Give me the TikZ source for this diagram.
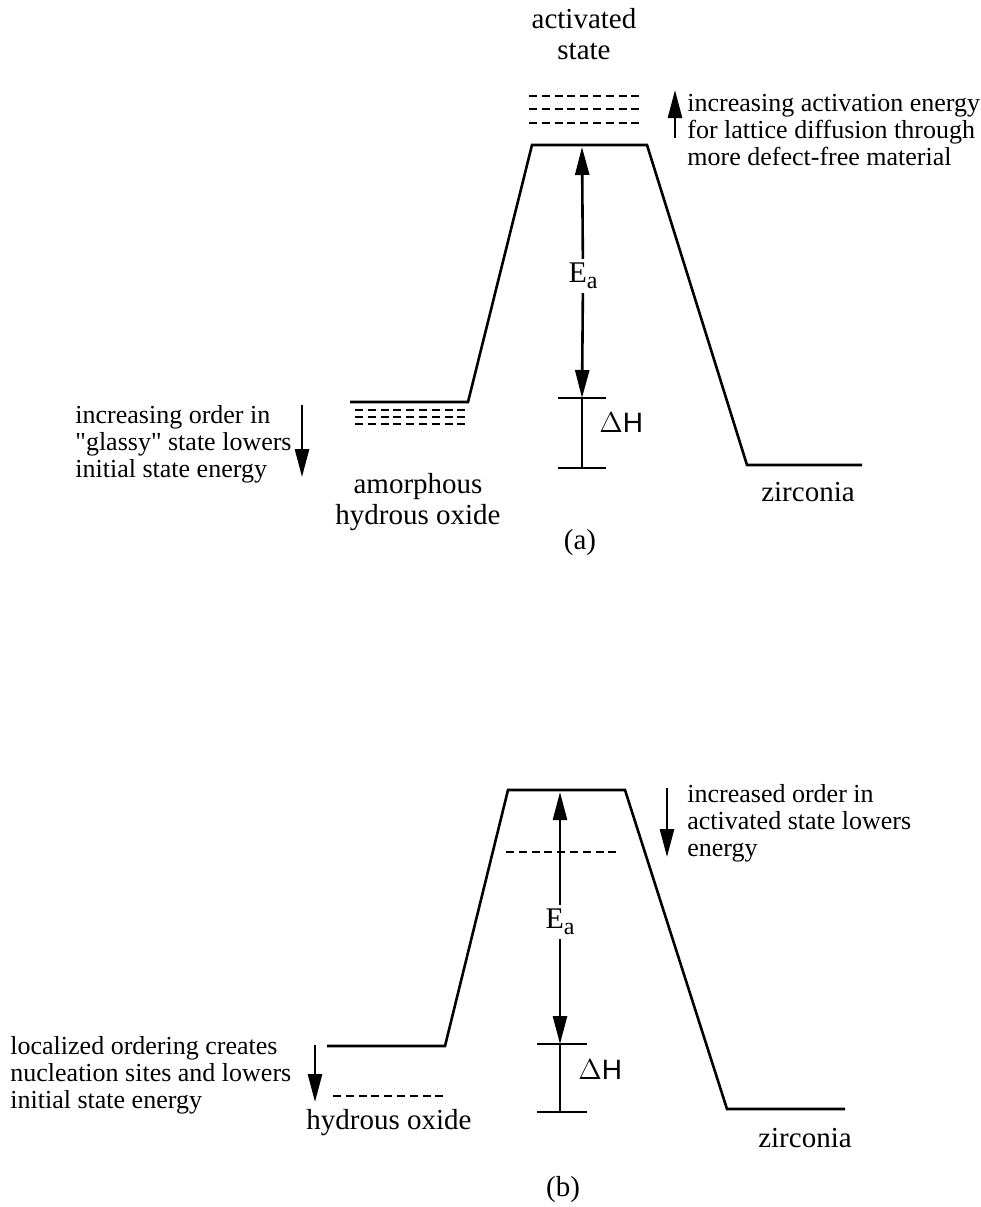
\documentclass[tikz,border=0pt]{standalone}
\usepackage{fontspec}
\setmainfont{Liberation Serif}
\newfontfamily\dhfont{Liberation Sans}
\usetikzlibrary{arrows.meta}

\begin{document}
\begin{tikzpicture}
    [ x = .5pt, y = -.5pt
    , level/.style =
      { line width = 1.3pt }
    , guess/.style =
      { line width = 1.1pt, dash pattern = on 4pt off 2.4pt }
    , arr/.style =
      { line width = 1.3pt, -{Triangle[length=14pt,width=7pt]} }
    , note/.style =
      { align = left, inner sep = 0pt, font = \fontsize{13}{13.5}\selectfont }
    , lbl/.style =
      { align = center, inner sep = 0pt, font = \fontsize{14.5}{15.5}\selectfont }
    , ea/.style =
      { fill = white, inner sep = 2pt, font = \fontsize{15}{15}\selectfont }
    , dh/.style =
      { anchor = west, inner sep = 0pt, font = \dhfont\fontsize{14}{14}\selectfont }
    ]
    \useasboundingbox (0,0) rectangle (981,1207);

    % (a)
    \coordinate (al1) at (350,402);
    \coordinate (al2) at (468,402);
    \coordinate (at1) at (532,145);
    \coordinate (at2) at (647,145);
    \coordinate (ar1) at (747,465);
    \coordinate (ar2) at (862,465);
    \draw [level] (al1) -- (al2) -- (at1) -- (at2) -- (ar1) -- (ar2);

    \foreach \y in {410,417,424}
      \draw [guess] (355,\y) -- (466,\y);
    \foreach \y in {96,109,123}
      \draw [guess] (529,\y) -- (643,\y);

    \node [ea] (aea) at (583,276) {E\raisebox{-.4ex}{\fontsize{12}{12}\selectfont a}};
    \coordinate (aeatop) at (582,147);
    \coordinate (aeabot) at (582,398);
    \draw [arr] (aea) -- (aeatop);
    \draw [arr] (aea) -- (aeabot);

    \coordinate (adh1) at (582,398);
    \coordinate (adh2) at (582,468);
    \draw [level] (558,398) -- (606,398);
    \draw [level] (558,468) -- (606,468);
    \draw [level] (adh1) -- (adh2);
    \node [dh] (adh) at (599,423) {$\Delta$H};

    \coordinate (aup1) at (675,138);
    \coordinate (aup2) at (675,90);
    \draw [arr] (aup1) -- (aup2);
    \node [note, anchor = west] (anoteup) at (687,130)
      {increasing activation energy\\for lattice diffusion through\\more defect-free material};

    \coordinate (adn1) at (302,405);
    \coordinate (adn2) at (302,477);
    \draw [arr] (adn1) -- (adn2);
    \node [note, anchor = west] (anotedn) at (75,444)
      {increasing order in\\\textquotedbl glassy\textquotedbl{} state lowers\\initial state energy};

    \node [lbl] (actstate) at (584,34) {activated\\state};
    \node [lbl] (aamorph) at (418,502) {amorphous\\hydrous oxide};
    \node [lbl] (azirc) at (808,492) {zirconia};
    \node [lbl] (acap) at (580,543) {(a)};

    % (b)
    \coordinate (bl1) at (327,1046);
    \coordinate (bl2) at (445,1046);
    \coordinate (bt1) at (508,790);
    \coordinate (bt2) at (625,790);
    \coordinate (br1) at (727,1109);
    \coordinate (br2) at (845,1109);
    \draw [level] (bl1) -- (bl2) -- (bt1) -- (bt2) -- (br1) -- (br2);

    \draw [guess] (506,852) -- (618,852);
    \draw [guess] (333,1096) -- (443,1096);

    \node [ea] (bea) at (560,922) {E\raisebox{-.4ex}{\fontsize{12}{12}\selectfont a}};
    \coordinate (beatop) at (560,792);
    \coordinate (beabot) at (560,1044);
    \draw [arr] (bea) -- (beatop);
    \draw [arr] (bea) -- (beabot);

    \coordinate (bdh1) at (560,1044);
    \coordinate (bdh2) at (560,1112);
    \draw [level] (537,1044) -- (587,1044);
    \draw [level] (537,1112) -- (587,1112);
    \draw [level] (bdh1) -- (bdh2);
    \node [dh] (bdh) at (578,1070) {$\Delta$H};

    \coordinate (bdn1) at (667,788);
    \coordinate (bdn2) at (667,857);
    \draw [arr] (bdn1) -- (bdn2);
    \node [note, anchor = west] (bnotedn) at (687,823)
      {increased order in\\activated state lowers\\energy};

    \coordinate (bln1) at (315,1045);
    \coordinate (bln2) at (315,1102);
    \draw [arr] (bln1) -- (bln2);
    \node [note, anchor = west] (bnoteln) at (10,1075)
      {localized ordering creates\\nucleation sites and lowers\\initial state energy};

    \node [lbl] (bhydr) at (389,1123) {hydrous oxide};
    \node [lbl] (bzirc) at (805,1138) {zirconia};
    \node [lbl] (bcap) at (563,1190) {(b)};
\end{tikzpicture}
\end{document}
